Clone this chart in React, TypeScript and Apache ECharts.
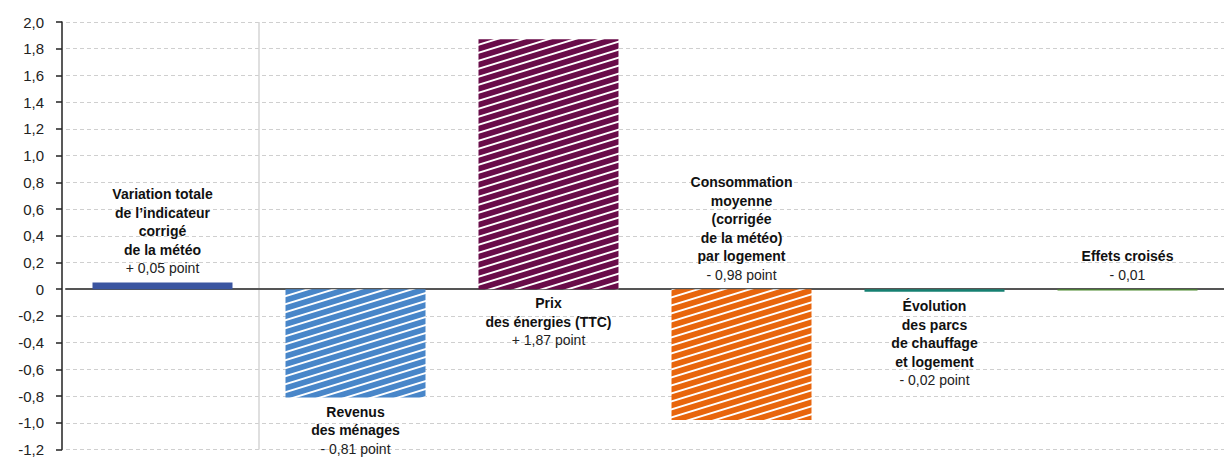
import React, { useEffect, useRef } from "react";
import * as echarts from "echarts";

const categories: string[] = [
  "Variation totale\nde l’indicateur\ncorrigé\nde la météo",
  "Revenus\ndes ménages",
  "Prix\ndes énergies (TTC)",
  "Consommation\nmoyenne\n(corrigée\nde la météo)\npar logement",
  "Évolution\ndes parcs\nde chauffage\net logement",
  "Effets croisés",
];
const values: number[] = [0.05, -0.81, 1.87, -0.98, -0.02, -0.01];
const valueLabels: string[] = [
  "+ 0,05 point",
  "- 0,81 point",
  "+ 1,87 point",
  "- 0,98 point",
  "- 0,02 point",
  "- 0,01",
];
const labelPositions: string[] = ["top", "bottom", "bottom", "top", "bottom", "top"];
const barColors: string[] = ["#3B55A0", "#4886C9", "#690C49", "#E8650C", "#168072", "#4A8A2C"];
const hatched: boolean[] = [false, true, true, true, false, false];

const FONT = "'Liberation Sans', Arial, Helvetica, sans-serif";
const T = "rgba(0,0,0,0)";

function makeHatch(color: string) {
  const w = 26;
  const h = 8;
  const c = document.createElement("canvas");
  c.width = w;
  c.height = h;
  const ctx = c.getContext("2d")!;
  ctx.fillStyle = color;
  ctx.fillRect(0, 0, w, h);
  ctx.strokeStyle = "#ffffff";
  ctx.lineWidth = 1.9;
  for (let k = -1; k <= 1; k++) {
    ctx.beginPath();
    ctx.moveTo(-w, h * k + h + h);
    ctx.lineTo(2 * w, h * k + h - 2 * h);
    ctx.stroke();
  }
  return { image: c, repeat: "repeat", imageWidth: w, imageHeight: h };
}

export default function App() {
  const ref = useRef<HTMLDivElement>(null);
  useEffect(() => {
    if (!ref.current) return;
    const chart = echarts.init(ref.current, undefined, { renderer: "svg" });
    const data = values.map((v, i) => ({
      value: v,
      itemStyle: {
        color: hatched[i] ? makeHatch(barColors[i]) : barColors[i],
      },
      label: {
        show: true,
        position: labelPositions[i],
        distance: 5,
        formatter: () =>
          categories[i]
            .split("\n")
            .map((l) => `{b|${l}}`)
            .join("\n") + `\n{v|${valueLabels[i]}}`,
        rich: {
          b: { fontFamily: FONT, fontSize: 14, fontWeight: "bold", color: "#111", lineHeight: 18.5 },
          v: { fontFamily: FONT, fontSize: 14, color: "#222", lineHeight: 18.5 },
        },
      },
    }));
    chart.setOption({
      animation: false,
      grid: { left: 66, right: 0, top: 22, bottom: 6, containLabel: false },
      xAxis: {
        type: "category",
        data: categories,
        axisLine: { onZero: true, lineStyle: { color: "#555", width: 2 } },
        axisTick: { show: false },
        axisLabel: { show: false },
        splitLine: {
          show: true,
          interval: 0,
          lineStyle: { color: [T, "#d4d4d4", T, T, T, T, T], width: 1.5, type: "solid" },
        },
      },
      yAxis: {
        type: "value",
        min: -1.2,
        max: 2,
        interval: 0.2,
        offset: 4,
        axisLine: { show: true, lineStyle: { color: "#222", width: 1.5 } },
        axisTick: { show: true, length: 6, lineStyle: { color: "#222", width: 1.5 } },
        axisLabel: {
          margin: 18,
          fontFamily: FONT,
          fontSize: 15,
          color: "#222",
          formatter: (v: number) => {
            const r = Math.round(v * 10) / 10;
            if (r === 0) return "0";
            return r.toFixed(1).replace(".", ",");
          },
        },
        splitLine: {
          show: true,
          lineStyle: { color: "#cfcfcf", type: [4, 3], width: 1 },
        },
      },
      series: [
        {
          type: "bar",
          barWidth: 140,
          data,
        },
      ],
    });
    return () => chart.dispose();
  }, []);
  return (
    <div
      ref={ref}
      style={{ position: "fixed", left: 0, top: 0, width: 1224, height: 457, background: "#fff" }}
    />
  );
}
